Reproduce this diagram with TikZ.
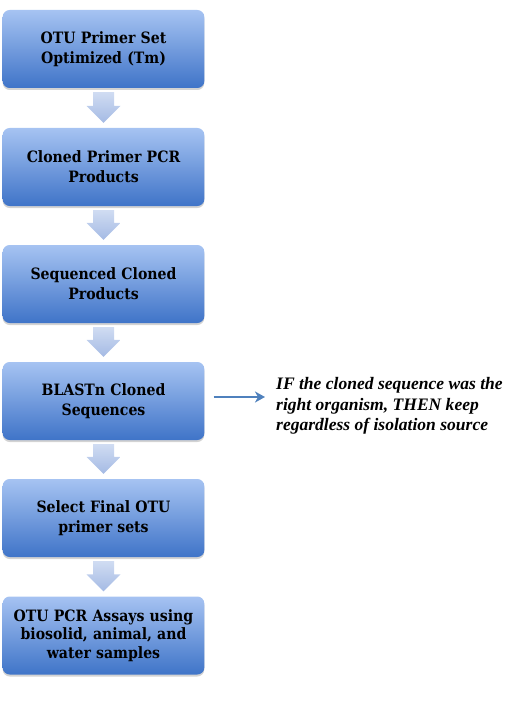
\documentclass[tikz,border=0pt]{standalone}
\usepackage{fontspec}
\setmainfont{Liberation Serif}
\newfontfamily\boxfont{DejaVu Serif Condensed}
\usetikzlibrary{shadows,arrows.meta,calc}
\definecolor{boxtop}{HTML}{A6C3F2}
\definecolor{boxbot}{HTML}{3F74C8}
\definecolor{arrtop}{HTML}{D0DCF2}
\definecolor{arrbot}{HTML}{A4BAE4}
\definecolor{linkblue}{HTML}{4F81BD}
\tikzset{
  stepbox/.style={rounded corners=7bp, minimum width=199bp, minimum height=78bp,
    top color=boxtop, bottom color=boxbot, draw=none,
    drop shadow={shadow xshift=0bp, shadow yshift=-2bp, opacity=0.35},
    align=center, font=\boxfont\bfseries\fontsize{15.7}{19.8}\selectfont, text width=195bp},
  downarrow/.style={top color=arrtop, bottom color=arrbot, draw=none},
  note/.style={align=left, anchor=west, font=\bfseries\itshape\fontsize{17.6}{20.5}\selectfont}
}
\begin{document}
\begin{tikzpicture}[x=1bp,y=-1bp]
\useasboundingbox (0,0) rectangle (511,701);
\node[stepbox] (b1) at (103.5,49) {OTU Primer Set\\Optimized (Tm)};
\node[stepbox] (b2) at (103.5,167) {Cloned Primer PCR\\Products};
\node[stepbox] (b3) at (103.5,284) {Sequenced Cloned\\Products};
\node[stepbox] (b4) at (103.5,401) {BLASTn Cloned\\Sequences};
\node[stepbox] (b5) at (103.5,518) {Select Final OTU\\primer sets};
\node[stepbox, font=\boxfont\bfseries\fontsize{15.7}{18.6}\selectfont] (b6) at (103.5,635.5) {OTU PCR Assays using\\biosolid, animal, and\\water samples};
\foreach \a/\b in {b1/b2,b2/b3,b3/b4,b4/b5,b5/b6}{
  \path (\a.south) ++(0,4) coordinate (s) (\b.north) ++(0,-5) coordinate (t);
  \path[downarrow] ($(s)+(-10.5,0)$) -- ($(s)+(10.5,0)$) -- ($(t)+(10.5,-17)$) -- ($(t)+(17,-17)$)
     -- (t) -- ($(t)+(-17,-17)$) -- ($(t)+(-10.5,-17)$) -- cycle;
}
\node[note, inner sep=0pt] (n) at (276,406) {IF the cloned sequence was the\\right organism, THEN keep\\regardless of isolation source};
\draw[linkblue, line width=2.2bp, -{Stealth[length=10bp,width=11bp,inset=3bp]}] ($(b4.east)+(9,-4)$) -- ($(n.west)+(-11,-9)$);
\end{tikzpicture}
\end{document}
